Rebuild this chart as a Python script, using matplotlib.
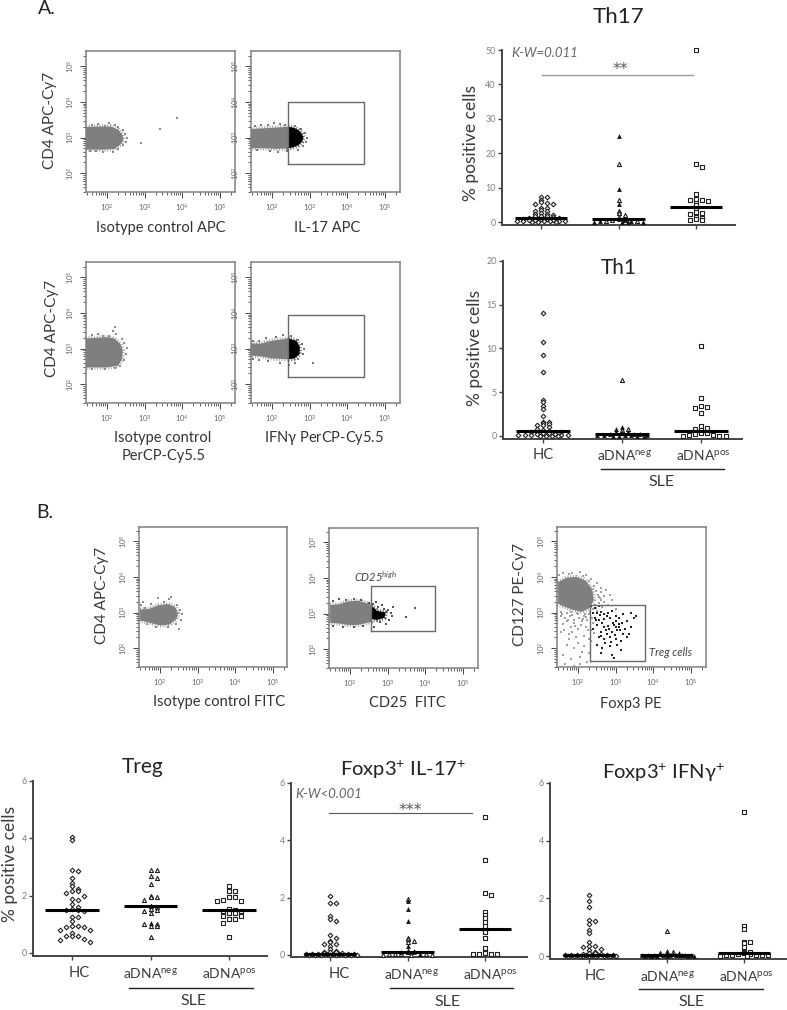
"""Flow cytometry gates and % positive cell swarms (Th17, Th1, Treg panels)."""
import numpy as np
import matplotlib
matplotlib.use("Agg")
import matplotlib.pyplot as plt

plt.rcParams["font.family"] = ["Lato", "DejaVu Sans"]
plt.rcParams["mathtext.default"] = "regular"

W, H = 787, 1010
FRAME = "#808080"
CLOUD = "#7f7f7f"
TEXT = "#3a3a3a"
TICK_TEXT = "#808080"

# ---------------------------------------------------------------------------
# Swarm values (% positive cells)
# ---------------------------------------------------------------------------
th17_hc = [7.4, 7.2, 6.3, 5.8, 5.5, 5.3, 5.1, 4.2, 4.1, 3.5, 3.3, 3.1, 2.5, 2.3, 2.2, 2.0, 1.8,
           1.7, 1.6, 1.4, 1.3, 1.2, 1.0, 0.9, 0.8, 0.7, 0.6, 0.5, 0.4, 0.4, 0.3, 0.3, 0.2, 0.2,
           0.1, 0.1, 0.1]
th17_neg_open = [17.0, 6.3, 3.3, 2.6, 2.1, 1.4, 0.7, 0.5, 0.3, 0.2]
th17_neg_solid = [25.1, 9.7, 5.3, 1.0, 0.8, 0.4, 0.2, 0.1, 0.1, 0.1, 0.1]
th17_pos = [50.0, 16.9, 16.0, 8.2, 6.7, 6.5, 6.5, 6.2, 5.5, 4.8, 3.6, 2.9, 2.6, 2.4, 1.5, 1.2,
            0.8, 0.6, 0.5]

th1_hc = [14.1, 10.7, 9.3, 7.3, 4.1, 3.9, 3.4, 3.1, 2.3, 1.6, 1.6, 1.5, 1.4, 1.3, 1.2, 1.0, 0.8,
          0.7, 0.6, 0.5, 0.5, 0.4, 0.4, 0.3, 0.3, 0.2, 0.2, 0.1, 0.1, 0.1, 0.1, 0.1, 0.05, 0.05,
          0.05, 0.05]
th1_neg_open = [6.4, 0.8, 0.7, 0.3]
th1_neg_solid = [1.0, 0.8, 0.5, 0.4, 0.3, 0.3, 0.2, 0.2, 0.2, 0.1, 0.1, 0.1, 0.1, 0.1, 0.05,
                 0.05, 0.05, 0.05]
th1_pos = [10.3, 4.3, 3.4, 3.3, 3.2, 2.6, 1.1, 0.9, 0.8, 0.7, 0.5, 0.4, 0.3, 0.3, 0.2, 0.1, 0.1,
           0.05, 0.05, 0.05]

treg_hc = [4.05, 3.95, 2.9, 2.85, 2.6, 2.45, 2.35, 2.25, 2.15, 2.15, 2.1, 2.0, 1.9, 1.85, 1.7,
           1.6, 1.55, 1.5, 1.5, 1.45, 1.25, 1.25, 1.1, 0.95, 0.95, 0.9, 0.9, 0.8, 0.8, 0.7, 0.6,
           0.6, 0.6, 0.5, 0.45, 0.4]
treg_neg_open = [2.9, 2.9, 2.7, 2.6, 2.4, 2.0, 1.95, 1.95, 1.85, 1.65, 1.6, 1.55, 1.5, 1.45, 1.4,
                 1.0, 1.0, 0.95, 0.95, 0.55]
treg_neg_solid = [1.05]
treg_pos = [2.35, 2.15, 2.15, 1.95, 1.95, 1.85, 1.8, 1.8, 1.55, 1.5, 1.45, 1.45, 1.4, 1.4, 1.3,
            1.3, 1.2, 1.2, 1.05, 0.55]

il17_hc = [2.05, 1.82, 1.8, 1.35, 1.25, 1.2, 0.7, 0.6, 0.5, 0.45, 0.4, 0.4, 0.3, 0.2, 0.15, 0.12,
           0.1, 0.1, 0.08, 0.06, 0.05, 0.05, 0.04, 0.03, 0.03, 0.02, 0.02, 0.02, 0.01, 0.01,
           0.01, 0.01, 0.0, 0.0, 0.0, 0.0]
il17_neg_open = [1.95, 0.6, 0.55, 0.5, 0.45, 0.15, 0.1, 0.05, 0.04, 0.02, 0.02, 0.01, 0.0, 0.0]
il17_neg_solid = [1.9, 1.6, 1.2, 0.3, 0.15, 0.12, 0.1, 0.05]
il17_pos = [4.8, 3.3, 2.15, 2.1, 1.5, 1.4, 1.3, 1.15, 1.0, 0.85, 0.8, 0.6, 0.25, 0.12, 0.08, 0.05,
            0.03, 0.02, 0.02]

ifng_hc = [2.1, 1.92, 1.7, 1.25, 1.2, 1.1, 0.9, 0.8, 0.5, 0.35, 0.33, 0.3, 0.25, 0.2, 0.15, 0.1,
           0.1, 0.08, 0.06, 0.05, 0.05, 0.04, 0.03, 0.03, 0.02, 0.02, 0.02, 0.01, 0.01, 0.01,
           0.01, 0.0, 0.0, 0.0, 0.0, 0.0]
ifng_neg_open = [0.88, 0.15, 0.12, 0.05]
ifng_neg_solid = [0.18, 0.12, 0.1, 0.08, 0.06, 0.05, 0.05, 0.04, 0.04, 0.03, 0.03, 0.02, 0.02,
                  0.02, 0.01, 0.01, 0.01, 0.0, 0.0, 0.0]
ifng_pos = [5.0, 1.05, 0.95, 0.5, 0.48, 0.45, 0.3, 0.15, 0.15, 0.1, 0.08, 0.06, 0.05, 0.04, 0.03,
            0.02, 0.02, 0.01, 0.0]

th17_medians = [1.2, 0.8, 4.5]
th1_medians = [0.6, 0.2, 0.6]
treg_medians = [1.5, 1.65, 1.5]
il17_medians = [0.03, 0.1, 0.92]
ifng_medians = [0.03, 0.03, 0.12]

# ---------------------------------------------------------------------------
# Flow cloud outlines and stray events, log10 units
# ---------------------------------------------------------------------------
cloud_apc_x = [1.44, 1.8, 2.1, 2.3, 2.41, 2.44, 2.38, 2.2, 1.9, 1.6, 1.44]
cloud_apc_y = [3.3, 3.31, 3.31, 3.22, 3.08, 2.95, 2.82, 2.68, 2.66, 2.66, 2.66]
stray_apc_x = [1.6, 1.75, 1.95, 2.05, 2.2, 2.3, 2.42, 2.48, 2.52, 2.5, 2.42, 2.3, 2.15, 1.9, 1.7,
               1.55, 2.9, 3.4, 3.87]
stray_apc_y = [3.36, 3.38, 3.33, 3.42, 3.36, 3.3, 3.22, 3.1, 3.0, 2.88, 2.78, 2.68, 2.6, 2.6, 2.62,
               2.63, 2.85, 3.25, 3.55]

cloud_il17_x = [1.44, 1.8, 2.1, 2.43, 2.43, 2.1, 1.8, 1.44]
cloud_il17_y = [3.24, 3.26, 3.28, 3.3, 2.7, 2.68, 2.7, 2.7]
solid_il17_x = [2.43, 2.6, 2.72, 2.8, 2.84, 2.8, 2.7, 2.55, 2.43]
solid_il17_y = [3.3, 3.27, 3.2, 3.1, 3.0, 2.88, 2.78, 2.72, 2.7]
stray_il17_x = [1.55, 1.7, 1.9, 2.05, 2.2, 2.35, 2.6, 2.78, 2.88, 2.93, 2.9, 2.82, 2.7, 2.4, 2.15,
                1.95, 1.6]
stray_il17_y = [3.33, 3.36, 3.35, 3.42, 3.38, 3.36, 3.33, 3.25, 3.12, 3.0, 2.88, 2.76, 2.66, 2.62,
                2.6, 2.62, 2.66]

cloud_iso_ifn_x = [1.44, 1.7, 2.0, 2.2, 2.36, 2.42, 2.4, 2.3, 2.0, 1.7, 1.44]
cloud_iso_ifn_y = [3.28, 3.3, 3.32, 3.28, 3.12, 2.95, 2.7, 2.52, 2.47, 2.47, 2.47]
stray_iso_ifn_x = [1.6, 1.75, 1.9, 2.05, 2.15, 2.25, 2.4, 2.46, 2.52, 2.5, 2.46, 2.35, 2.2, 1.95,
                   1.6, 2.22]
stray_iso_ifn_y = [3.38, 3.42, 3.36, 3.34, 3.5, 3.4, 3.28, 3.15, 3.02, 2.85, 2.68, 2.52, 2.44,
                   2.43, 2.43, 3.6]

cloud_ifn_x = [1.44, 1.7, 2.0, 2.43, 2.43, 2.0, 1.7, 1.44]
cloud_ifn_y = [3.14, 3.14, 3.22, 3.28, 2.7, 2.72, 2.78, 2.8]
solid_ifn_x = [2.43, 2.65, 2.74, 2.74, 2.6, 2.43]
solid_ifn_y = [3.28, 3.22, 3.05, 2.85, 2.72, 2.7]
stray_ifn_x = [1.5, 1.65, 1.85, 2.1, 2.3, 2.5, 2.7, 2.8, 2.85, 2.82, 2.7, 2.62, 2.45, 2.2, 1.9,
               1.65, 1.5, 3.1]
stray_ifn_y = [3.2, 3.22, 3.3, 3.33, 3.38, 3.36, 3.25, 3.12, 2.98, 2.85, 2.72, 2.58, 2.55, 2.6,
               2.64, 2.68, 2.72, 2.58]

cloud_fitc_x = [1.47, 1.7, 1.95, 2.2, 2.4, 2.48, 2.44, 2.25, 2.0, 1.7, 1.47]
cloud_fitc_y = [3.08, 3.1, 3.2, 3.24, 3.16, 2.98, 2.82, 2.66, 2.64, 2.72, 2.78]
stray_fitc_x = [1.5, 1.6, 1.75, 1.95, 2.1, 2.25, 2.3, 2.45, 2.53, 2.58, 2.55, 2.42, 2.2, 1.9, 1.65,
                1.5, 1.55, 2.5]
stray_fitc_y = [3.2, 3.12, 3.25, 3.42, 3.3, 3.38, 3.45, 3.2, 3.08, 2.95, 2.8, 2.68, 2.58, 2.6,
                2.68, 2.78, 3.3, 2.55]

cloud_cd25_x = [1.47, 1.7, 1.95, 2.2, 2.56, 2.56, 2.2, 1.95, 1.7, 1.47]
cloud_cd25_y = [3.24, 3.26, 3.34, 3.36, 3.26, 2.76, 2.68, 2.68, 2.72, 2.74]
solid_cd25_x = [2.56, 2.66, 2.7, 2.8, 2.95, 2.92, 2.72, 2.56]
solid_cd25_y = [3.2, 3.15, 3.08, 3.06, 3.03, 2.88, 2.82, 2.85]
stray_cd25_x = [1.55, 1.7, 1.9, 2.1, 2.3, 2.5, 2.62, 2.75, 2.85, 3.0, 3.08, 3.12, 3.05, 2.95, 2.8,
                2.65, 2.35, 2.1, 1.8, 1.55, 3.5, 3.72, 2.7, 2.9, 3.15]
stray_cd25_y = [3.35, 3.4, 3.38, 3.42, 3.38, 3.3, 3.28, 3.18, 3.25, 3.1, 3.02, 2.92, 2.82, 2.72,
                2.75, 2.62, 2.66, 2.62, 2.62, 2.66, 2.9, 3.15, 3.32, 3.12, 3.18]

cloud_foxp3_x = [1.47, 1.7, 1.95, 2.2, 2.38, 2.42, 2.3, 2.1, 1.85, 1.6, 1.47]
cloud_foxp3_y = [3.85, 3.98, 4.0, 3.9, 3.65, 3.35, 3.12, 3.02, 3.08, 3.18, 3.25]
stray_grey_x = [1.5, 1.6, 1.75, 1.85, 2.05, 2.2, 2.35, 2.5, 2.6, 2.75, 2.85, 2.55, 2.45, 2.5, 2.7,
                2.65, 2.3, 2.15, 2.0, 1.85, 1.7, 1.55, 1.65, 1.9, 2.1, 2.25, 2.4, 1.6, 1.8, 2.0,
                2.2, 2.35, 1.55, 1.75, 1.95, 2.15, 2.3, 1.7, 1.9, 2.1, 1.6, 1.8, 2.05, 2.25, 2.0,
                1.75, 2.15, 2.3, 1.65, 1.9, 2.05, 2.25, 1.85, 1.55, 1.7, 2.35, 2.6, 2.8, 2.9, 3.0,
                2.47, 2.52, 2.58, 2.42, 2.28, 2.12, 1.98, 1.82, 2.62, 2.68, 2.18, 2.02, 1.78, 1.58,
                2.22, 2.08, 1.88, 2.38, 2.32, 2.48, 1.92, 1.72, 2.42, 2.27, 2.12, 1.62, 2.55, 2.4]
stray_grey_y = [4.05, 4.1, 4.08, 4.12, 4.15, 4.05, 3.95, 3.82, 3.7, 3.62, 3.5, 3.45, 3.2, 3.05, 3.3,
                3.15, 2.95, 2.9, 2.95, 2.92, 2.98, 3.02, 2.85, 2.8, 2.75, 2.8, 2.7, 2.68, 2.6, 2.55,
                2.6, 2.5, 2.45, 2.4, 2.3, 2.35, 2.25, 2.1, 2.0, 1.9, 1.8, 1.7, 1.75, 1.6, 2.15,
                2.25, 2.05, 1.85, 1.55, 1.5, 1.55, 1.62, 2.45, 2.9, 2.75, 2.2, 3.35, 3.2, 3.35, 3.1,
                3.6, 3.5, 3.4, 3.75, 3.88, 4.02, 3.0, 3.02, 3.58, 3.46, 2.96, 2.86, 2.9, 2.95,
                2.88, 2.66, 2.72, 2.85, 3.02, 3.12, 2.62, 2.78, 2.42, 2.52, 2.82, 2.5, 3.28, 3.1]
stray_dark_x = [2.35, 2.45, 2.55, 2.4, 2.5, 2.62, 2.7, 2.8, 2.9, 3.0, 2.45, 2.55, 2.7, 2.85, 3.0,
                3.1, 3.2, 2.5, 2.65, 2.8, 2.95, 3.1, 3.3, 2.6, 2.75, 2.9, 3.05, 3.2, 3.4, 2.55,
                2.7, 2.85, 3.0, 3.15, 2.65, 2.85, 3.05, 2.6, 2.9, 3.3, 3.5, 3.4, 3.55, 3.25, 3.35,
                2.4, 2.72, 2.95, 3.15, 2.5, 2.78, 2.92, 3.08, 2.58, 2.68, 2.83, 2.98, 3.12, 2.48,
                2.62, 2.76, 2.88, 3.02, 3.18]
stray_dark_y = [3.18, 3.14, 3.18, 3.0, 2.98, 3.02, 2.95, 2.98, 3.05, 2.9, 2.85, 2.8, 2.82, 2.85,
                2.75, 2.85, 2.95, 2.65, 2.7, 2.62, 2.65, 2.6, 2.75, 2.45, 2.5, 2.45, 2.5, 2.4, 2.6,
                2.3, 2.25, 2.3, 2.25, 2.2, 2.0, 2.05, 2.1, 1.85, 1.8, 2.3, 2.85, 3.0, 2.9, 2.55,
                2.4, 2.55, 2.15, 1.72, 1.95, 2.1, 2.9, 2.72, 2.68, 2.92, 2.58, 2.55, 2.38, 2.52,
                2.78, 2.35, 2.4, 2.18, 2.58, 2.72]

DECADES = [2, 3, 4, 5]
MINORS = [d + np.log10(m) for d in range(1, 6) for m in range(2, 10)]


def put(x, y, s, **kw):
    # place text by pixel position in the figure
    kw.setdefault("ha", "center")
    kw.setdefault("va", "center")
    kw.setdefault("color", TEXT)
    return fig.text(x / W, 1 - y / H, s, **kw)


def px_axes(left, top, right, bottom):
    return fig.add_axes([left / W, 1 - bottom / H, (right - left) / W, (bottom - top) / H])


def flow_panel(left, top, right, bottom, gate=None):
    ax = px_axes(left, top, right, bottom)
    span_x = (right - left) / 37.5
    span_y = (bottom - top) / 35.6
    ax.set_xlim(1.44, 1.44 + span_x)
    ax.set_ylim(1.47, 1.47 + span_y)
    for s in ax.spines.values():
        s.set_color(FRAME)
        s.set_linewidth(1.1)
    xlim, ylim = ax.get_xlim(), ax.get_ylim()
    ax.set_xticks(DECADES)
    ax.set_yticks(DECADES)
    ax.set_xticks([m for m in MINORS if xlim[0] < m < xlim[1]], minor=True)
    ax.set_yticks([m for m in MINORS if ylim[0] < m < ylim[1]], minor=True)
    ax.set_xticklabels([f"$10^{{{d}}}$" for d in DECADES])
    ax.set_yticklabels([f"$10^{{{d}}}$" for d in DECADES])
    ax.tick_params(which="major", length=4.5, width=0.7, color="#444444", labelsize=5.5,
                   labelcolor="#666666", pad=2.5)
    ax.tick_params(which="minor", length=2.5, width=0.6, color="#444444")
    plt.setp(ax.get_yticklabels(), rotation=90, va="center", rotation_mode="default")
    if gate:
        ax.plot([gate[0], gate[1], gate[1], gate[0], gate[0]],
                [gate[2], gate[2], gate[3], gate[3], gate[2]],
                color="#6a6a6a", lw=1.0, zorder=5)
    return ax


def cloud(ax, xs, ys, color=CLOUD, fuzz="#a0a0a0"):
    # dotted wide stroke under the fill gives the outline a speckled edge
    ax.fill(xs, ys, color=color, lw=0, zorder=2)
    ax.plot(list(xs) + [xs[0]], list(ys) + [ys[0]], color=fuzz, lw=3.2,
            ls=(0, (0.22, 0.38)), zorder=1)


def strays(ax, xs, ys, color="#8a8a8a", size=0.7):
    ax.scatter(xs, ys, s=size, marker="s", color=color, linewidth=0, zorder=3)


def swarm(values, band, step, row_max=9):
    # symmetric beeswarm: same height band spreads out from the category centre,
    # a band that gets too wide folds back with a half step shift
    values = np.asarray(values, dtype=float)
    offsets = np.zeros(len(values))
    bins = np.floor(values / band).astype(int)
    for b in np.unique(bins):
        idx = np.where(bins == b)[0]
        idx = idx[np.argsort(-values[idx], kind="stable")]
        for i, k in enumerate(idx):
            row, pos = divmod(i, row_max)
            sign = 1 if pos % 2 else -1
            offsets[k] = sign * ((pos + 1) // 2) * step + (row % 2) * step / 2
    return offsets


def group(ax, pos, open_vals, solid_vals, marker, band, spread=0.078):
    vals = list(open_vals) + list(solid_vals)
    off = swarm(vals, band, spread)
    n = len(open_vals)
    y = np.array(vals)
    size = 5.5 if marker == "D" else 8.5
    ax.scatter(pos + off[:n], y[:n], s=size, marker=marker, facecolor="white",
               edgecolor="#222222", linewidth=0.8, zorder=3, clip_on=False)
    if solid_vals:
        ax.scatter(pos + off[n:], y[n:], s=12, marker=marker, color="#111111", linewidth=0,
                   zorder=3, clip_on=False)


def swarm_panel(left, right, top, zero, bottom, cats, ymax, yticks, series, medians, band,
                line_color="#444444"):
    ax = px_axes(left, top, right, bottom)
    unit = (cats[2] - cats[0]) / 2
    ax.set_xlim((left - cats[0]) / unit, (right - cats[0]) / unit)
    per = (zero - top) / ymax
    ax.set_ylim(-(bottom - zero) / per, ymax)
    ax.patch.set_alpha(0)
    for name in ("top", "right"):
        ax.spines[name].set_visible(False)
    for name in ("left", "bottom"):
        ax.spines[name].set_color(line_color)
        ax.spines[name].set_linewidth(1.4)
    ax.set_xticks([0, 1, 2])
    ax.set_xticklabels([])
    ax.set_yticks(yticks)
    ax.tick_params(axis="y", length=3, width=1.0, color=line_color, labelsize=6.5,
                   labelcolor=TICK_TEXT, pad=1.5)
    ax.tick_params(axis="x", length=3, width=1.0, color=line_color)
    for i, (marker, open_vals, solid_vals) in enumerate(series):
        group(ax, i, open_vals, solid_vals, marker, band)
        ax.plot([i - 0.34, i + 0.34], [medians[i]] * 2, color="black", lw=2.2, zorder=4,
                solid_capstyle="butt")
    return ax


def hline(x0, x1, y, color, lw):
    fig.add_artist(plt.Line2D([x0 / W, x1 / W], [1 - y / H] * 2, color=color, lw=lw))


def group_labels(hc_x, neg_x, pos_x, label_y, line_l, line_r, line_y, sle_x, sle_y):
    put(hc_x, label_y, "HC", fontsize=10.5)
    put(neg_x, label_y, "aDNA$^{neg}$", fontsize=10)
    put(pos_x, label_y, "aDNA$^{pos}$", fontsize=10)
    hline(line_l, line_r, line_y, "#222222", 1)
    put(sle_x, sle_y, "SLE", fontsize=11.5)


fig = plt.figure(figsize=(W / 100, H / 100), dpi=100, facecolor="white")

# ---------------------------------------------------------------------------
# A. flow panels
# ---------------------------------------------------------------------------
ax = flow_panel(86, 51, 235, 192)
cloud(ax, cloud_apc_x, cloud_apc_y)
strays(ax, stray_apc_x, stray_apc_y)

ax = flow_panel(251, 51, 400, 192, gate=(2.43, 4.45, 2.27, 4.0))
cloud(ax, cloud_il17_x, cloud_il17_y)
cloud(ax, solid_il17_x, solid_il17_y, color="black", fuzz="#666666")
strays(ax, stray_il17_x, stray_il17_y, "#777777")

ax = flow_panel(86, 262, 235, 403)
cloud(ax, cloud_iso_ifn_x, cloud_iso_ifn_y)
strays(ax, stray_iso_ifn_x, stray_iso_ifn_y)

ax = flow_panel(251, 262, 400, 403, gate=(2.43, 4.45, 2.2, 3.95))
cloud(ax, cloud_ifn_x, cloud_ifn_y)
cloud(ax, solid_ifn_x, solid_ifn_y, color="black", fuzz="#666666")
strays(ax, stray_ifn_x, stray_ifn_y, "#777777")

# ---------------------------------------------------------------------------
# B. flow panels
# ---------------------------------------------------------------------------
ax = flow_panel(139, 527, 287, 667)
cloud(ax, cloud_fitc_x, cloud_fitc_y)
strays(ax, stray_fitc_x, stray_fitc_y)

ax = flow_panel(329, 528, 478, 668, gate=(2.56, 4.27, 2.5, 3.76))
cloud(ax, cloud_cd25_x, cloud_cd25_y)
cloud(ax, solid_cd25_x, solid_cd25_y, color="black", fuzz="#555555")
strays(ax, stray_cd25_x, stray_cd25_y, "#555555")

ax = flow_panel(557, 527, 706, 667, gate=(2.32, 3.79, 1.63, 3.22))
cloud(ax, cloud_foxp3_x, cloud_foxp3_y)
strays(ax, stray_grey_x, stray_grey_y, "#a0a0a0", 0.8)
strays(ax, stray_dark_x, stray_dark_y, "#222222", 0.8)

# ---------------------------------------------------------------------------
# Swarm panels
# ---------------------------------------------------------------------------
swarm_panel(502, 735, 50, 222, 225, (541, 618.5, 696), 50, [0, 10, 20, 30, 40, 50],
            [("D", th17_hc, []), ("^", th17_neg_open, th17_neg_solid), ("s", th17_pos, [])],
            th17_medians, 1.0)
swarm_panel(503, 742, 261, 436, 439, (543, 623, 701), 20, [0, 5, 10, 15, 20],
            [("D", th1_hc, []), ("^", th1_neg_open, th1_neg_solid), ("s", th1_pos, [])],
            th1_medians, 0.4)
swarm_panel(33, 267, 781, 953, 956, (72, 151, 229), 6, [0, 2, 4, 6],
            [("D", treg_hc, []), ("^", treg_neg_open, treg_neg_solid), ("s", treg_pos, [])],
            treg_medians, 0.2)
swarm_panel(291, 527, 783, 955, 957, (330, 407, 485), 6, [0, 2, 4, 6],
            [("D", il17_hc, []), ("^", il17_neg_open, il17_neg_solid), ("s", il17_pos, [])],
            il17_medians, 0.12)
swarm_panel(550, 786, 783, 956, 959, (589, 666, 744), 6, [0, 2, 4, 6],
            [("D", ifng_hc, []), ("^", ifng_neg_open, ifng_neg_solid), ("s", ifng_pos, [])],
            ifng_medians, 0.12)

# ---------------------------------------------------------------------------
# Text
# ---------------------------------------------------------------------------
put(47, 9, "A.", fontsize=14, color="#222222")
put(45, 513, "B.", fontsize=14, color="#222222")

put(50, 120, "CD4 APC-Cy7", fontsize=11, rotation=90)
put(52, 328, "CD4 APC-Cy7", fontsize=11, rotation=90)
put(102, 595, "CD4 APC-Cy7", fontsize=11, rotation=90)
put(520, 595, "CD127 PE-Cy7", fontsize=11, rotation=90)

put(161, 228, "Isotype control APC", fontsize=10.5, color="#333333")
put(327, 228, "IL-17 APC", fontsize=10.5, color="#333333")
put(163, 438, "Isotype control", fontsize=10.5, color="#333333")
put(164, 456, "PerCP-Cy5.5", fontsize=10.5, color="#333333")
put(324, 438, "IFN$\\gamma$ PerCP-Cy5.5", fontsize=10.5, color="#333333")
put(219, 702, "Isotype control FITC", fontsize=10.5, color="#333333")
put(407, 703, "CD25  FITC", fontsize=10.5, color="#333333")
put(631, 704, "Foxp3 PE", fontsize=10.5, color="#333333")
put(376, 577, "CD25$^{high}$", fontsize=8, style="italic", color="#444444")
put(671, 653, "Treg cells", fontsize=8, style="italic", color="#444444")

put(618, 17, "Th17", fontsize=16, color="#222222")
put(619, 268, "Th1", fontsize=15, color="#222222")
put(143, 767, "Treg", fontsize=15, color="#222222")
put(403, 770, "Foxp3$^{+}$ IL-17$^{+}$", fontsize=14.5, color="#222222")
put(663, 773, "Foxp3$^{+}$ IFN$\\gamma^{+}$", fontsize=14.5, color="#222222")

put(471, 143, "% positive cells", fontsize=12.5, rotation=90)
put(475, 348, "% positive cells", fontsize=12.5, rotation=90)
put(10, 864, "% positive cells", fontsize=12.5, rotation=90)

put(545, 53, "K-W=0.011", fontsize=9.5, style="italic", color="#666666")
hline(542, 693, 75, "#999999", 1.0)
put(620, 69, "**", fontsize=11.5, color="#555555", family="DejaVu Sans")
put(329, 794, "K-W<0.001", fontsize=9.5, style="italic", color="#666666")
hline(329, 472, 813, "#555555", 0.8)
put(410, 810, "***", fontsize=11.5, color="#555555", family="DejaVu Sans")

group_labels(543, 624, 703, 455, 601, 724, 469, 662, 482)
group_labels(79, 150, 229, 973, 129, 253, 988, 194, 1001)
group_labels(339, 411, 490, 974, 390, 513, 988, 448, 1002)
group_labels(595, 667, 746, 976, 639, 763, 989, 692, 1002)

fig.savefig("out.png", dpi=100)
